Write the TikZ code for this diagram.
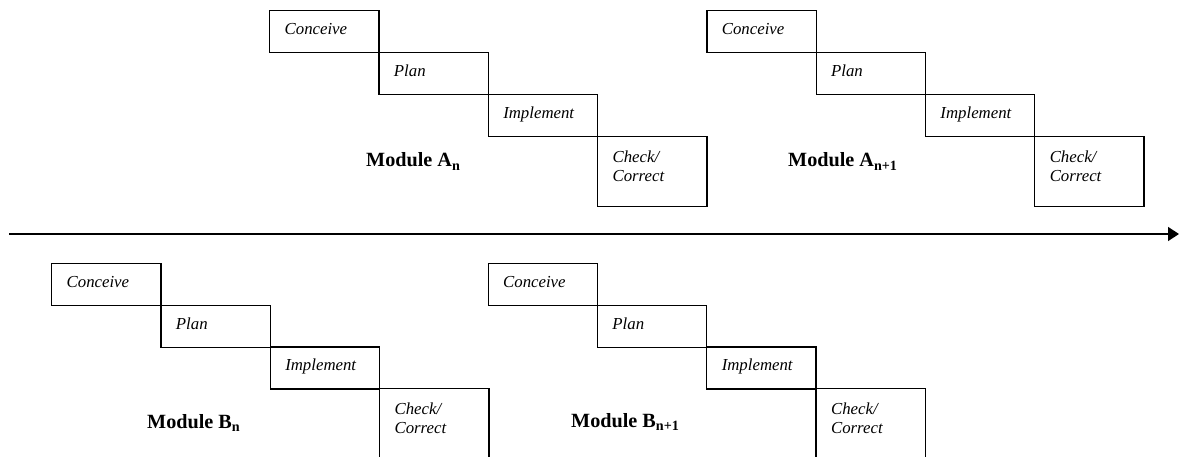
\documentclass[tikz,border=0pt]{standalone}
\usepackage{fontspec}
\setmainfont{Liberation Serif}
\usetikzlibrary{arrows.meta}
\begin{document}
\begin{tikzpicture}[x=1pt,y=-1pt,
  stepbox/.style={draw, line width=1.3pt, anchor=north west, inner xsep=15pt, inner ysep=0pt,
    text width=79.3pt, align=left, text height=24pt, text depth=18pt,
    font=\fontsize{16.8}{19}\selectfont\itshape},
  checkbox/.style={stepbox, text height=26pt, text depth=44pt},
  modlabel/.style={anchor=base west, inner sep=0pt, font=\fontsize{20.2}{24}\selectfont\bfseries},
  timeline/.style={line width=1.3pt, -{Triangle[length=11pt,width=14pt]}}]
\clip (0,0) rectangle (1179,457);
% Module A_n
\node[stepbox] (ac1) at (269,10) {Conceive};
\node[stepbox] (ap1) at (378.3,52) {Plan};
\node[stepbox] (ai1) at (487.6,94) {Implement};
\node[checkbox] (ak1) at (596.9,136) {Check/\\Correct};
\node[modlabel] (am1) at (366,167) {Module A\textsubscript{n}};
% Module A_{n+1}
\node[stepbox] (ac2) at (706.2,10) {Conceive};
\node[stepbox] (ap2) at (815.5,52) {Plan};
\node[stepbox] (ai2) at (924.8,94) {Implement};
\node[checkbox] (ak2) at (1034.1,136) {Check/\\Correct};
\node[modlabel] (am2) at (788,167) {Module A\textsubscript{n+1}};
% timeline
\coordinate (tl) at (9,234);
\coordinate (tr) at (1179,234);
\draw[timeline] (tl) -- (tr);
% Module B_n
\node[stepbox] (bc1) at (51,263) {Conceive};
\node[stepbox] (bp1) at (160.3,304.7) {Plan};
\node[stepbox] (bi1) at (269.6,346.3) {Implement};
\node[checkbox] (bk1) at (378.9,388) {Check/\\Correct};
\node[modlabel] (bm1) at (147,428) {Module B\textsubscript{n}};
% Module B_{n+1}
\node[stepbox] (bc2) at (487.5,263) {Conceive};
\node[stepbox] (bp2) at (596.8,304.7) {Plan};
\node[stepbox] (bi2) at (706.1,346.3) {Implement};
\node[checkbox] (bk2) at (815.4,388) {Check/\\Correct};
\node[modlabel] (bm2) at (571,427) {Module B\textsubscript{n+1}};
\end{tikzpicture}
\end{document}
